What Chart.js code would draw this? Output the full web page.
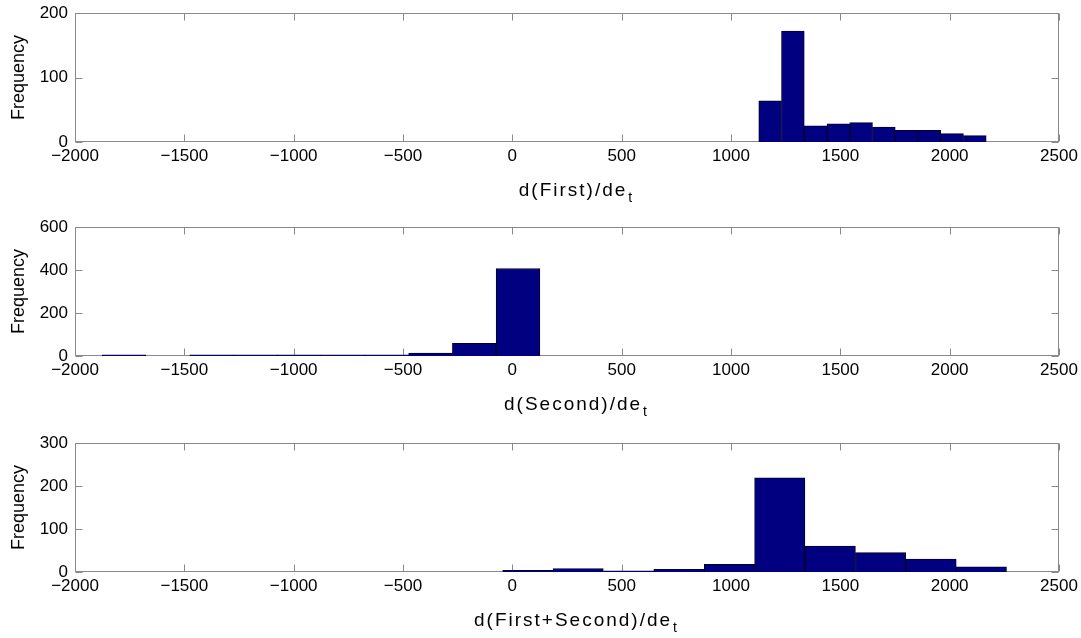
<!DOCTYPE html>
<html><head><meta charset="utf-8">
<script src="https://cdn.jsdelivr.net/npm/chart.js@4"></script>
<style>
html,body{margin:0;padding:0;background:#fff;width:1081px;height:638px;overflow:hidden;position:relative;}
canvas{position:absolute;left:0;}
</style></head><body>
<canvas id="c1" width="1081" height="208" style="top:0px"></canvas>
<canvas id="c2" width="1081" height="208" style="top:214px"></canvas>
<canvas id="c3" width="1081" height="208" style="top:430px"></canvas>
<script>
// x axis
const xMin = -2000, xMax = 2500, xStep = 500;

// d(First)/de_t histogram
const firstCenters = [1179, 1283, 1387, 1491, 1595, 1699, 1803, 1907, 2011, 2115];
const firstCounts  = [64, 172, 25, 28, 30, 23, 18, 18, 13, 10];

// d(Second)/de_t histogram
const secondCenters = [-1776, -1575, -1375, -1175, -975, -774, -574, -374, -174, 26];
const secondCounts  = [6, 0, 5, 5, 5, 5, 5, 14, 59, 407];

// d(First+Second)/de_t histogram
const sumCenters = [71, 301, 532, 762, 993, 1223, 1454, 1684, 1915, 2145];
const sumCounts  = [4, 8, 3, 6, 18, 219, 60, 45, 30, 12];

// y axis ranges
const yMaxes = [200, 600, 300];
const ySteps = [100, 200, 100];

// labels
const xTitles = ['d(First)/de', 'd(Second)/de', 'd(First+Second)/de'];
const xSub = 't';
const yTitle = 'Frequency';

const FONT = '"Liberation Sans", Arial, sans-serif';

const frame = {
  id: 'matlabFrame',
  beforeDatasetsDraw(chart, args, opts) {
    const {ctx, chartArea: a, scales: {x, y}} = chart;
    ctx.save();
    ctx.strokeStyle = '#8a8a8a';
    ctx.lineWidth = 1;
    const L = Math.round(a.left) + 0.5, R = Math.round(a.right) - 0.5;
    const T = Math.round(a.top) + 0.5, B = Math.round(a.bottom) - 0.5;
    ctx.strokeRect(L, T, R - L, B - T);
    ctx.beginPath();
    x.ticks.forEach(t => {
      const px = Math.round(x.getPixelForValue(t.value)) + 0.5;
      ctx.moveTo(px, B); ctx.lineTo(px, B - 7);
      ctx.moveTo(px, T); ctx.lineTo(px, T + 7);
    });
    y.ticks.forEach(t => {
      const py = Math.round(y.getPixelForValue(t.value)) + 0.5;
      ctx.moveTo(L, py); ctx.lineTo(L + 7, py);
      ctx.moveTo(R, py); ctx.lineTo(R - 7, py);
    });
    ctx.stroke();

    // x title with subscript
    ctx.fillStyle = '#000';
    ctx.textBaseline = 'alphabetic';
    ctx.textAlign = 'left';
    ctx.font = '19px ' + FONT;
    ctx.letterSpacing = '2px';
    const w = ctx.measureText(opts.title).width;
    ctx.font = '14px ' + FONT;
    ctx.letterSpacing = '0px';
    const ws = ctx.measureText(xSub).width;
    const cx = (a.left + a.right) / 2 + 8;
    const sx = cx - (w + ws) / 2;
    const base = a.bottom + 54;
    ctx.font = '19px ' + FONT;
    ctx.letterSpacing = '2px';
    ctx.fillText(opts.title, sx, base);
    ctx.font = '14px ' + FONT;
    ctx.letterSpacing = '0px';
    ctx.fillText(xSub, sx + w + 1, base + 6);

    // y title
    ctx.translate(19, (a.top + a.bottom) / 2);
    ctx.rotate(-Math.PI / 2);
    ctx.textAlign = 'center';
    ctx.textBaseline = 'middle';
    ctx.font = '18px ' + FONT;
    ctx.fillText(yTitle, 0, 0);
    ctx.restore();
  }
};

function makeChart(id, centers, counts, idx) {
  const data = centers.map((c, i) => ({x: c, y: counts[i]}));
  return new Chart(document.getElementById(id), {
    type: 'bar',
    data: {
      datasets: [{
        data: data,
        backgroundColor: '#000080',
        borderColor: '#000028',
        borderWidth: 1,
        barPercentage: 1,
        categoryPercentage: 1
      }]
    },
    options: {
      responsive: false,
      animation: false,
      devicePixelRatio: 1,
      layout: {padding: {top: 13, right: 22, bottom: 0, left: 0}},
      plugins: {
        legend: {display: false},
        tooltip: {enabled: false},
        matlabFrame: {title: xTitles[idx]}
      },
      scales: {
        x: {
          type: 'linear',
          min: xMin, max: xMax,
          offset: false,
          grid: {display: false, drawTicks: false},
          border: {display: false},
          ticks: {
            stepSize: xStep,
            padding: 4,
            color: '#000',
            font: {family: FONT, size: 17},
            maxRotation: 0,
            callback: v => String(v).replace('-', '\u2212')
          },
          afterFit: s => { s.height = 66; s.paddingLeft = 0; s.paddingRight = 0; }
        },
        y: {
          min: 0, max: yMaxes[idx],
          grid: {display: false, drawTicks: false},
          border: {display: false},
          ticks: {
            stepSize: ySteps[idx],
            padding: 7,
            color: '#000',
            font: {family: FONT, size: 17},
            callback: v => String(v)
          },
          afterFit: s => { s.width = 75; s.paddingTop = 0; s.paddingBottom = 0; }
        }
      }
    },
    plugins: [frame]
  });
}

makeChart('c1', firstCenters, firstCounts, 0);
makeChart('c2', secondCenters, secondCounts, 1);
makeChart('c3', sumCenters, sumCounts, 2);
</script>
</body></html>
